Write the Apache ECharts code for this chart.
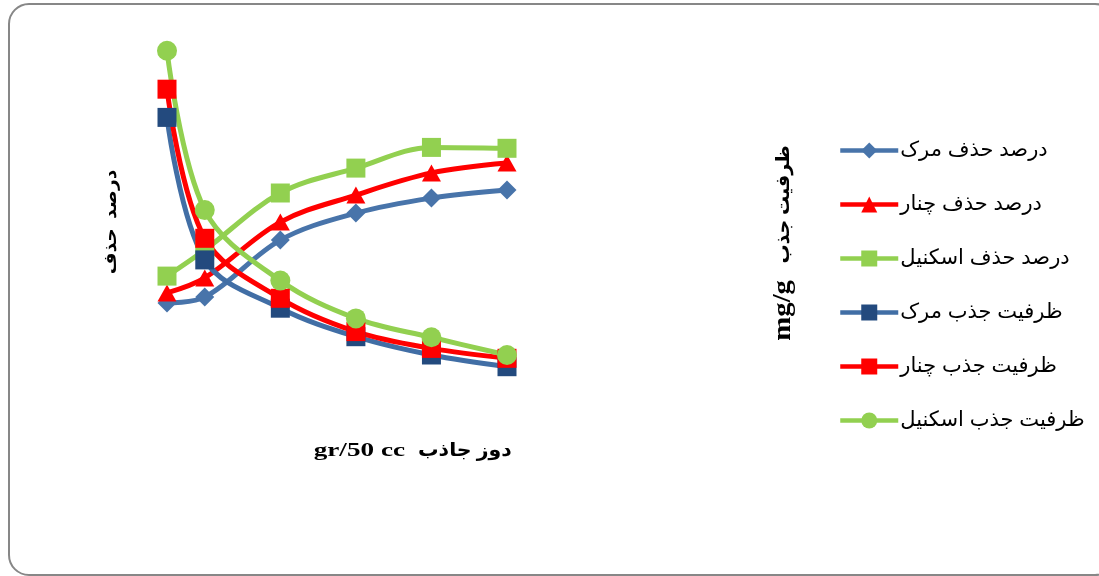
<!DOCTYPE html>
<html>
<head>
<meta charset="utf-8">
<script src="https://cdn.jsdelivr.net/npm/echarts@6/dist/echarts.min.js"></script>
<style>
  html, body { margin: 0; padding: 0; background: #ffffff; }
  #chart { width: 1099px; height: 576px; }
</style>
</head>
<body>
<div id="chart"></div>
<script>
// Adsorbent dose (gr / 50 cc)
const doses = [0.5, 1, 2, 3, 4, 5];

// Removal percentage (left scale)
const removalMarak   = [32.3, 34.3, 53.3, 62.3, 67.3, 70.0];
const removalChenar  = [35.7, 40.7, 59.3, 68.3, 75.7, 79.0];
const removalEskenil = [41.3, 50.0, 69.0, 77.3, 84.2, 83.9];

// Adsorption capacity, mg/g (right scale)
const capacityMarak   = [9.42, 4.67, 3.06, 2.11, 1.50, 1.11];
const capacityChenar  = [10.36, 5.39, 3.39, 2.28, 1.72, 1.39];
const capacityEskenil = [11.64, 6.33, 3.98, 2.72, 2.09, 1.50];

const seriesNames = [
  'درصد حذف مرک',
  'درصد حذف چنار',
  'درصد حذف اسکنیل',
  'ظرفیت جذب مرک',
  'ظرفیت جذب چنار',
  'ظرفیت جذب اسکنیل'
];

// Axis titles
const xTitleUnit = 'gr/50 cc';
const xTitleText = 'دوز جاذب';
const leftTitle = 'درصد  حذف';
const rightTitleText = 'ظرفیت جذب';
const rightTitleUnit = 'mg/g';

const pairs = vals => doses.map((d, i) => [d, vals[i]]);

function lineSeries(name, vals, axisIndex, lineColor, symbol, size, fill) {
  return {
    name: name,
    type: 'line',
    yAxisIndex: axisIndex,
    data: pairs(vals),
    smooth: 0.35,
    clip: false,
    symbol: symbol,
    symbolSize: size,
    showAllSymbol: true,
    lineStyle: { color: lineColor, width: 5 },
    itemStyle: { color: fill, borderColor: fill, borderWidth: 0 },
    emphasis: { disabled: true }
  };
}

const serifBold = '"Liberation Serif", "DejaVu Sans", serif';

const chart = echarts.init(document.getElementById('chart'), null, { renderer: 'canvas' });

chart.setOption({
  animation: false,
  backgroundColor: '#ffffff',
  grid: { left: 167, right: 592, top: 40, bottom: 176 },
  xAxis: { type: 'value', min: 0.5, max: 5, show: false },
  yAxis: [
    { type: 'value', min: 0, max: 120, show: false },
    { type: 'value', min: 0, max: 12, show: false }
  ],
  legend: {
    orient: 'vertical',
    left: 838,
    top: 140,
    padding: 0,
    itemWidth: 58,
    itemHeight: 20,
    itemGap: 33,
    lineStyle: { width: 4.5 },
    data: seriesNames,
    textStyle: {
      color: '#000000',
      fontSize: 21,
      fontFamily: '"Liberation Sans", "DejaVu Sans", sans-serif',
      padding: [0, 0, 0, -3]
    }
  },
  graphic: [
    {
      type: 'rect',
      shape: { x: 9, y: 4, width: 1106, height: 571, r: 20 },
      style: { fill: 'none', stroke: '#878787', lineWidth: 2 },
      silent: true, z: -10
    },
    {
      type: 'text',
      x: 405, y: 451,
      scaleX: 1.43,
      style: {
        text: xTitleUnit,
        font: 'bold 19px ' + serifBold,
        fill: '#000000',
        align: 'right',
        verticalAlign: 'middle'
      }
    },
    {
      type: 'text',
      x: 418, y: 451,
      scaleX: 1.08,
      style: {
        text: xTitleText,
        font: 'bold 19px ' + serifBold,
        fill: '#000000',
        align: 'left',
        verticalAlign: 'middle'
      }
    },
    {
      type: 'text',
      x: 112, y: 222,
      rotation: Math.PI / 2,
      scaleX: 1.1,
      style: {
        text: leftTitle,
        font: 'bold 17px ' + serifBold,
        fill: '#000000',
        align: 'center',
        verticalAlign: 'middle'
      }
    },
    {
      type: 'text',
      x: 784, y: 145,
      rotation: Math.PI / 2,
      style: {
        text: rightTitleText,
        font: 'bold 19px ' + serifBold,
        fill: '#000000',
        align: 'right',
        verticalAlign: 'middle'
      }
    },
    {
      type: 'text',
      x: 784, y: 280,
      rotation: Math.PI / 2,
      scaleX: 1.15,
      style: {
        text: rightTitleUnit,
        font: 'bold 25px ' + serifBold,
        fill: '#000000',
        align: 'right',
        verticalAlign: 'middle'
      }
    }
  ],
  series: [
    lineSeries(seriesNames[0], removalMarak,   0, '#4874AA', 'diamond',  [19, 19], '#4874AA'),
    lineSeries(seriesNames[1], removalChenar,  0, '#FF0000', 'triangle', [19, 17], '#FF0000'),
    lineSeries(seriesNames[2], removalEskenil, 0, '#92D050', 'rect',     19,       '#92D050'),
    lineSeries(seriesNames[3], capacityMarak,  1, '#416EA5', 'rect',     19,       '#234A7E'),
    lineSeries(seriesNames[4], capacityChenar, 1, '#FF0000', 'rect',     19,       '#FF0000'),
    lineSeries(seriesNames[5], capacityEskenil,1, '#92D050', 'circle',   20,       '#92D050')
  ]
});
</script>
</body>
</html>
